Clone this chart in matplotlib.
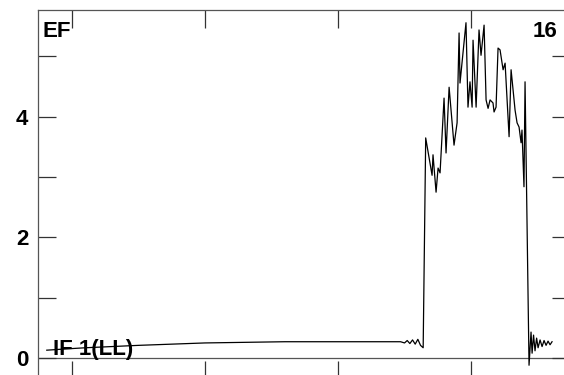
import matplotlib.pyplot as plt

# -------------------------------------------
# data (x in arbitrary units, ticks every 10)

baseline_x = [8.1, 9.5, 11.0, 13.0, 15.0, 17.5, 20.0, 23.0, 26.0, 29.0, 32.0, 34.0]
baseline_y = [0.13, 0.15, 0.17, 0.19, 0.21, 0.23, 0.25, 0.26, 0.27, 0.27, 0.27, 0.27]

rise_x = [34.7, 35.0, 35.2, 35.4, 35.6, 35.8, 36.0, 36.2, 36.4, 36.59]
rise_y = [0.27, 0.25, 0.29, 0.24, 0.30, 0.23, 0.31, 0.21, 0.17, 3.65]

peak_x = [37.07, 37.14, 37.37, 37.52, 37.67, 37.97, 38.12, 38.35, 38.72, 38.95,
          39.10, 39.17, 39.62, 39.77, 39.92, 40.08, 40.15, 40.38, 40.60, 40.75,
          40.98, 41.13, 41.28, 41.43, 41.65, 41.73, 41.88, 42.03, 42.18, 42.41,
          42.56, 42.86, 43.01, 43.31, 43.46, 43.61, 43.76, 43.83, 43.98, 44.06]
peak_y = [3.03, 3.37, 2.75, 3.15, 3.07, 4.31, 3.40, 4.49, 3.53, 3.90,
          5.39, 4.56, 5.56, 4.16, 4.58, 4.16, 5.27, 4.16, 5.44, 5.02,
          5.52, 4.28, 4.14, 4.28, 4.23, 4.08, 4.16, 5.14, 5.11, 4.78,
          4.89, 3.67, 4.78, 4.11, 3.90, 3.83, 3.57, 3.78, 2.84, 4.58]

tail_x = [44.36, 44.51, 44.59, 44.70, 44.81, 44.93, 45.04, 45.19, 45.34, 45.49,
          45.64, 45.79, 45.94, 46.09]
tail_y = [-0.12, 0.43, 0.08, 0.38, 0.12, 0.33, 0.17, 0.30, 0.19, 0.29,
          0.21, 0.28, 0.22, 0.27]

x_ticks = [10, 20, 30, 40]
y_ticks = [0, 2, 4]
y_minor = [1, 3, 5]
label_left = 'EF'
label_right = '16'
label_bottom = 'IF 1(LL)'

# -------------------------------------------

plt.rcParams['font.family'] = ['Liberation Sans', 'DejaVu Sans']

xs = baseline_x + rise_x + peak_x + tail_x
ys = baseline_y + rise_y + peak_y + tail_y

fig = plt.figure(figsize=(5.64, 3.75), dpi=100)
ax = fig.add_axes([38 / 564, -4 / 375, 532 / 564, 369 / 375])

spine_color = '#555555'
for s in ax.spines.values():
    s.set_color(spine_color)
    s.set_linewidth(0.9)

ax.axhline(0, color=spine_color, lw=0.9, zorder=1)

ax.text(5 / 532, 342 / 369, label_left, transform=ax.transAxes, fontsize=16,
        fontweight='bold', va='baseline', ha='left', zorder=1)
ax.text(519 / 532, 342 / 369, label_right, transform=ax.transAxes, fontsize=16,
        fontweight='bold', va='baseline', ha='right', zorder=1)
ax.text(8.57, 0.05, label_bottom, fontsize=16, fontweight='bold',
        va='baseline', ha='left', zorder=1)

ax.plot(xs, ys, color='black', lw=0.9, zorder=3)

ax.set_xlim(7.44, 47.44)
ax.set_ylim(-0.348, 5.771)
ax.set_xticks(x_ticks)
ax.set_xticklabels([])
ax.set_yticks(y_ticks)
ax.set_yticks(y_minor, minor=True)
ax.tick_params(axis='both', which='both', direction='in', length=13,
               width=0.9, color='#333333', top=True, right=True)
ax.tick_params(axis='y', which='major', labelsize=16, pad=7)
for lab in ax.get_yticklabels():
    lab.set_fontweight('bold')

fig.savefig('out.png', dpi=100)
